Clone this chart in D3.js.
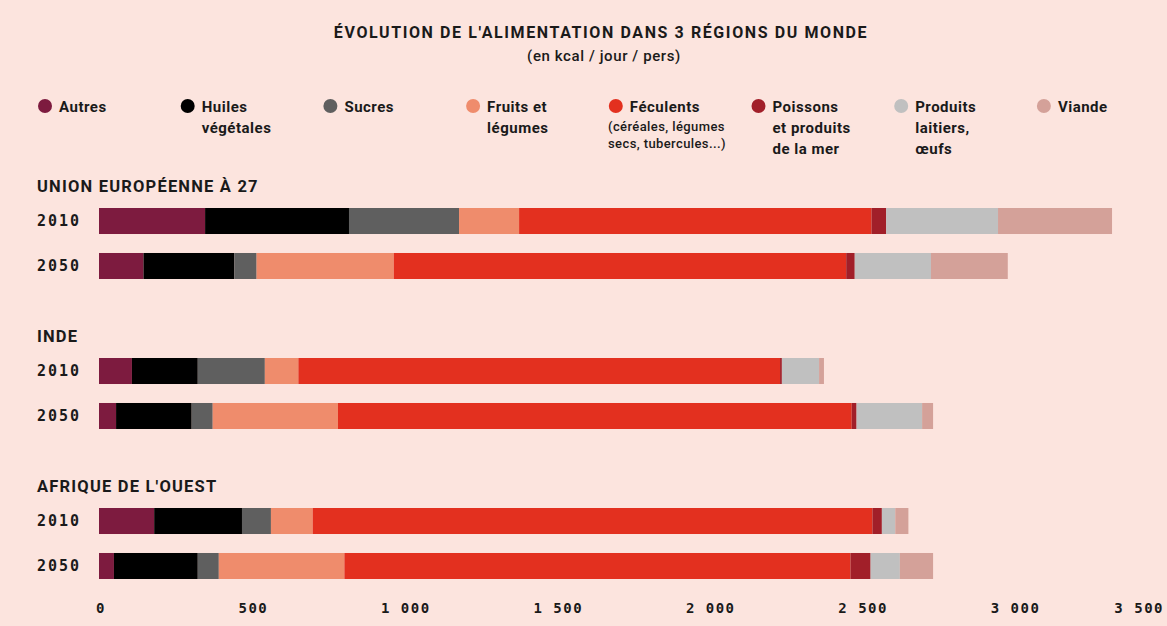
<!doctype html>
<html>
<head>
<meta charset="utf-8">
<script src="https://cdnjs.cloudflare.com/ajax/libs/d3/7.8.5/d3.min.js"></script>
<style>
  body { margin: 0; background: #fce4de; }
  svg { display: block; font-family: Roboto, "Liberation Sans", sans-serif; }
  .mono { font-family: "DejaVu Sans Mono", monospace; font-weight: bold; }
</style>
</head>
<body>
<svg id="chart" width="1167" height="626"></svg>
<script>
// categories in stacking order
var categories = ["Autres", "Huiles végétales", "Sucres", "Fruits et légumes",
  "Féculents", "Poissons et produits de la mer", "Produits laitiers, œufs", "Viande"];
var legendLines = [["Autres"], ["Huiles", "végétales"], ["Sucres"], ["Fruits et", "légumes"],
  ["Féculents"], ["Poissons", "et produits", "de la mer"], ["Produits", "laitiers,", "œufs"], ["Viande"]];
var colors = ["#7d1b3f", "#000000", "#5f5f5f", "#ef8c6c", "#e3301f", "#a11f29", "#c0c0c0", "#d4a199"];

var regions = ["UNION EUROPÉENNE À 27", "INDE", "AFRIQUE DE L'OUEST"];
var years = ["2010", "2050"];

// values in kcal / jour / pers, rows: EU 2010, EU 2050, Inde 2010, Inde 2050, AO 2010, AO 2050
var autres    = [348, 146, 108, 56, 181, 49];
var huiles    = [472, 298, 216, 248, 288, 275];
var sucres    = [361, 73, 220, 69, 95, 69];
var fruits    = [197, 450, 110, 411, 137, 412];
var feculents = [1156, 1484, 1580, 1685, 1836, 1660];
var poissons  = [48, 28, 6, 16, 31, 66];
var laitiers  = [367, 250, 122, 215, 44, 96];
var viande    = [374, 252, 16, 36, 43, 109];

var tickValues = [0, 500, 1000, 1500, 2000, 2500, 3000, 3500];
var tickLabels = ["0", "500", "1 000", "1 500", "2 000", "2 500", "3 000", "3 500"];

var series = [autres, huiles, sucres, fruits, feculents, poissons, laitiers, viande];
var rows = [];
regions.forEach(function (r, i) {
  years.forEach(function (y, j) {
    var row = { region: r, year: y };
    var k = i * years.length + j;
    categories.forEach(function (c, ci) { row[c] = series[ci][k]; });
    rows.push(row);
  });
});

var svg = d3.select("#chart");
var x = d3.scaleLinear().domain([0, 3500]).range([99, 1166]);
var yGroup = d3.scaleBand().domain(regions).range([170, 620]);
var yYear = d3.scaleBand().domain(years).range([38, 109]).paddingInner(0.422);
var color = d3.scaleOrdinal().domain(categories).range(colors);

// titles
svg.append("text").attr("x", 601).attr("y", 38).attr("text-anchor", "middle")
  .attr("font-size", 16).attr("font-weight", 700).attr("letter-spacing", 1.6)
  .attr("fill", "#1a1a1a").text("ÉVOLUTION DE L'ALIMENTATION DANS 3 RÉGIONS DU MONDE");
svg.append("text").attr("x", 604).attr("y", 61).attr("text-anchor", "middle")
  .attr("font-size", 15).attr("font-weight", 500).attr("letter-spacing", 0.6)
  .attr("fill", "#1a1a1a").text("(en kcal / jour / pers)");

// legend
var legend = svg.selectAll("g.legend").data(categories).enter().append("g")
  .attr("class", "legend")
  .attr("transform", function (d, i) { return "translate(" + (45 + i * 142.7) + ",106)"; });
legend.append("circle").attr("r", 7).attr("fill", function (d) { return color(d); });
legend.each(function (d, i) {
  var t = d3.select(this).append("text").attr("x", 14).attr("y", 6)
    .attr("font-size", 15).attr("font-weight", 700).attr("letter-spacing", 0.5)
    .attr("fill", "#1a1a1a");
  legendLines[i].forEach(function (l, li) {
    t.append("tspan").attr("x", 14).attr("dy", li ? 21 : 0).text(l);
  });
});
// sub-note under Féculents
var note = svg.append("text").attr("x", 608).attr("y", 131)
  .attr("font-size", 13).attr("font-weight", 500).attr("letter-spacing", 0.4)
  .attr("fill", "#1a1a1a");
note.append("tspan").attr("x", 608).text("(céréales, légumes");
note.append("tspan").attr("x", 608).attr("dy", 17).text("secs, tubercules...)");

// groups
var stack = d3.stack().keys(categories);
var stacked = stack(rows);

var groups = svg.selectAll("g.region").data(regions).enter().append("g")
  .attr("class", "region")
  .attr("transform", function (d) { return "translate(0," + yGroup(d) + ")"; });
groups.append("text").attr("x", 37).attr("y", 22)
  .attr("font-size", 16.5).attr("font-weight", 700).attr("letter-spacing", 1.2)
  .attr("fill", "#1a1a1a").text(function (d) { return d; });
groups.selectAll("text.year").data(years).enter().append("text")
  .attr("class", "year mono")
  .attr("x", 37).attr("y", function (d) { return yYear(d) + yYear.bandwidth() / 2 + 5; })
  .attr("font-size", 15).attr("letter-spacing", 2).attr("fill", "#1a1a1a")
  .text(function (d) { return d; });

svg.append("g").selectAll("g").data(stacked).enter().append("g")
  .attr("fill", function (d) { return color(d.key); })
  .selectAll("rect").data(function (d) { return d; }).enter().append("rect")
  .attr("x", function (d) { return x(d[0]); })
  .attr("width", function (d) { return x(d[1]) - x(d[0]); })
  .attr("y", function (d) { return yGroup(d.data.region) + yYear(d.data.year); })
  .attr("height", yYear.bandwidth());

// axis labels
svg.append("g").selectAll("text").data(tickValues).enter().append("text")
  .attr("class", "mono")
  .attr("x", function (d, i) { return i === tickValues.length - 1 ? x(d) - 2 : x(d) + 2; })
  .attr("y", 613)
  .attr("text-anchor", function (d, i) { return i === tickValues.length - 1 ? "end" : "middle"; })
  .attr("font-size", 14).attr("letter-spacing", 1.5).attr("fill", "#1a1a1a")
  .text(function (d, i) { return tickLabels[i]; });
</script>
</body>
</html>
